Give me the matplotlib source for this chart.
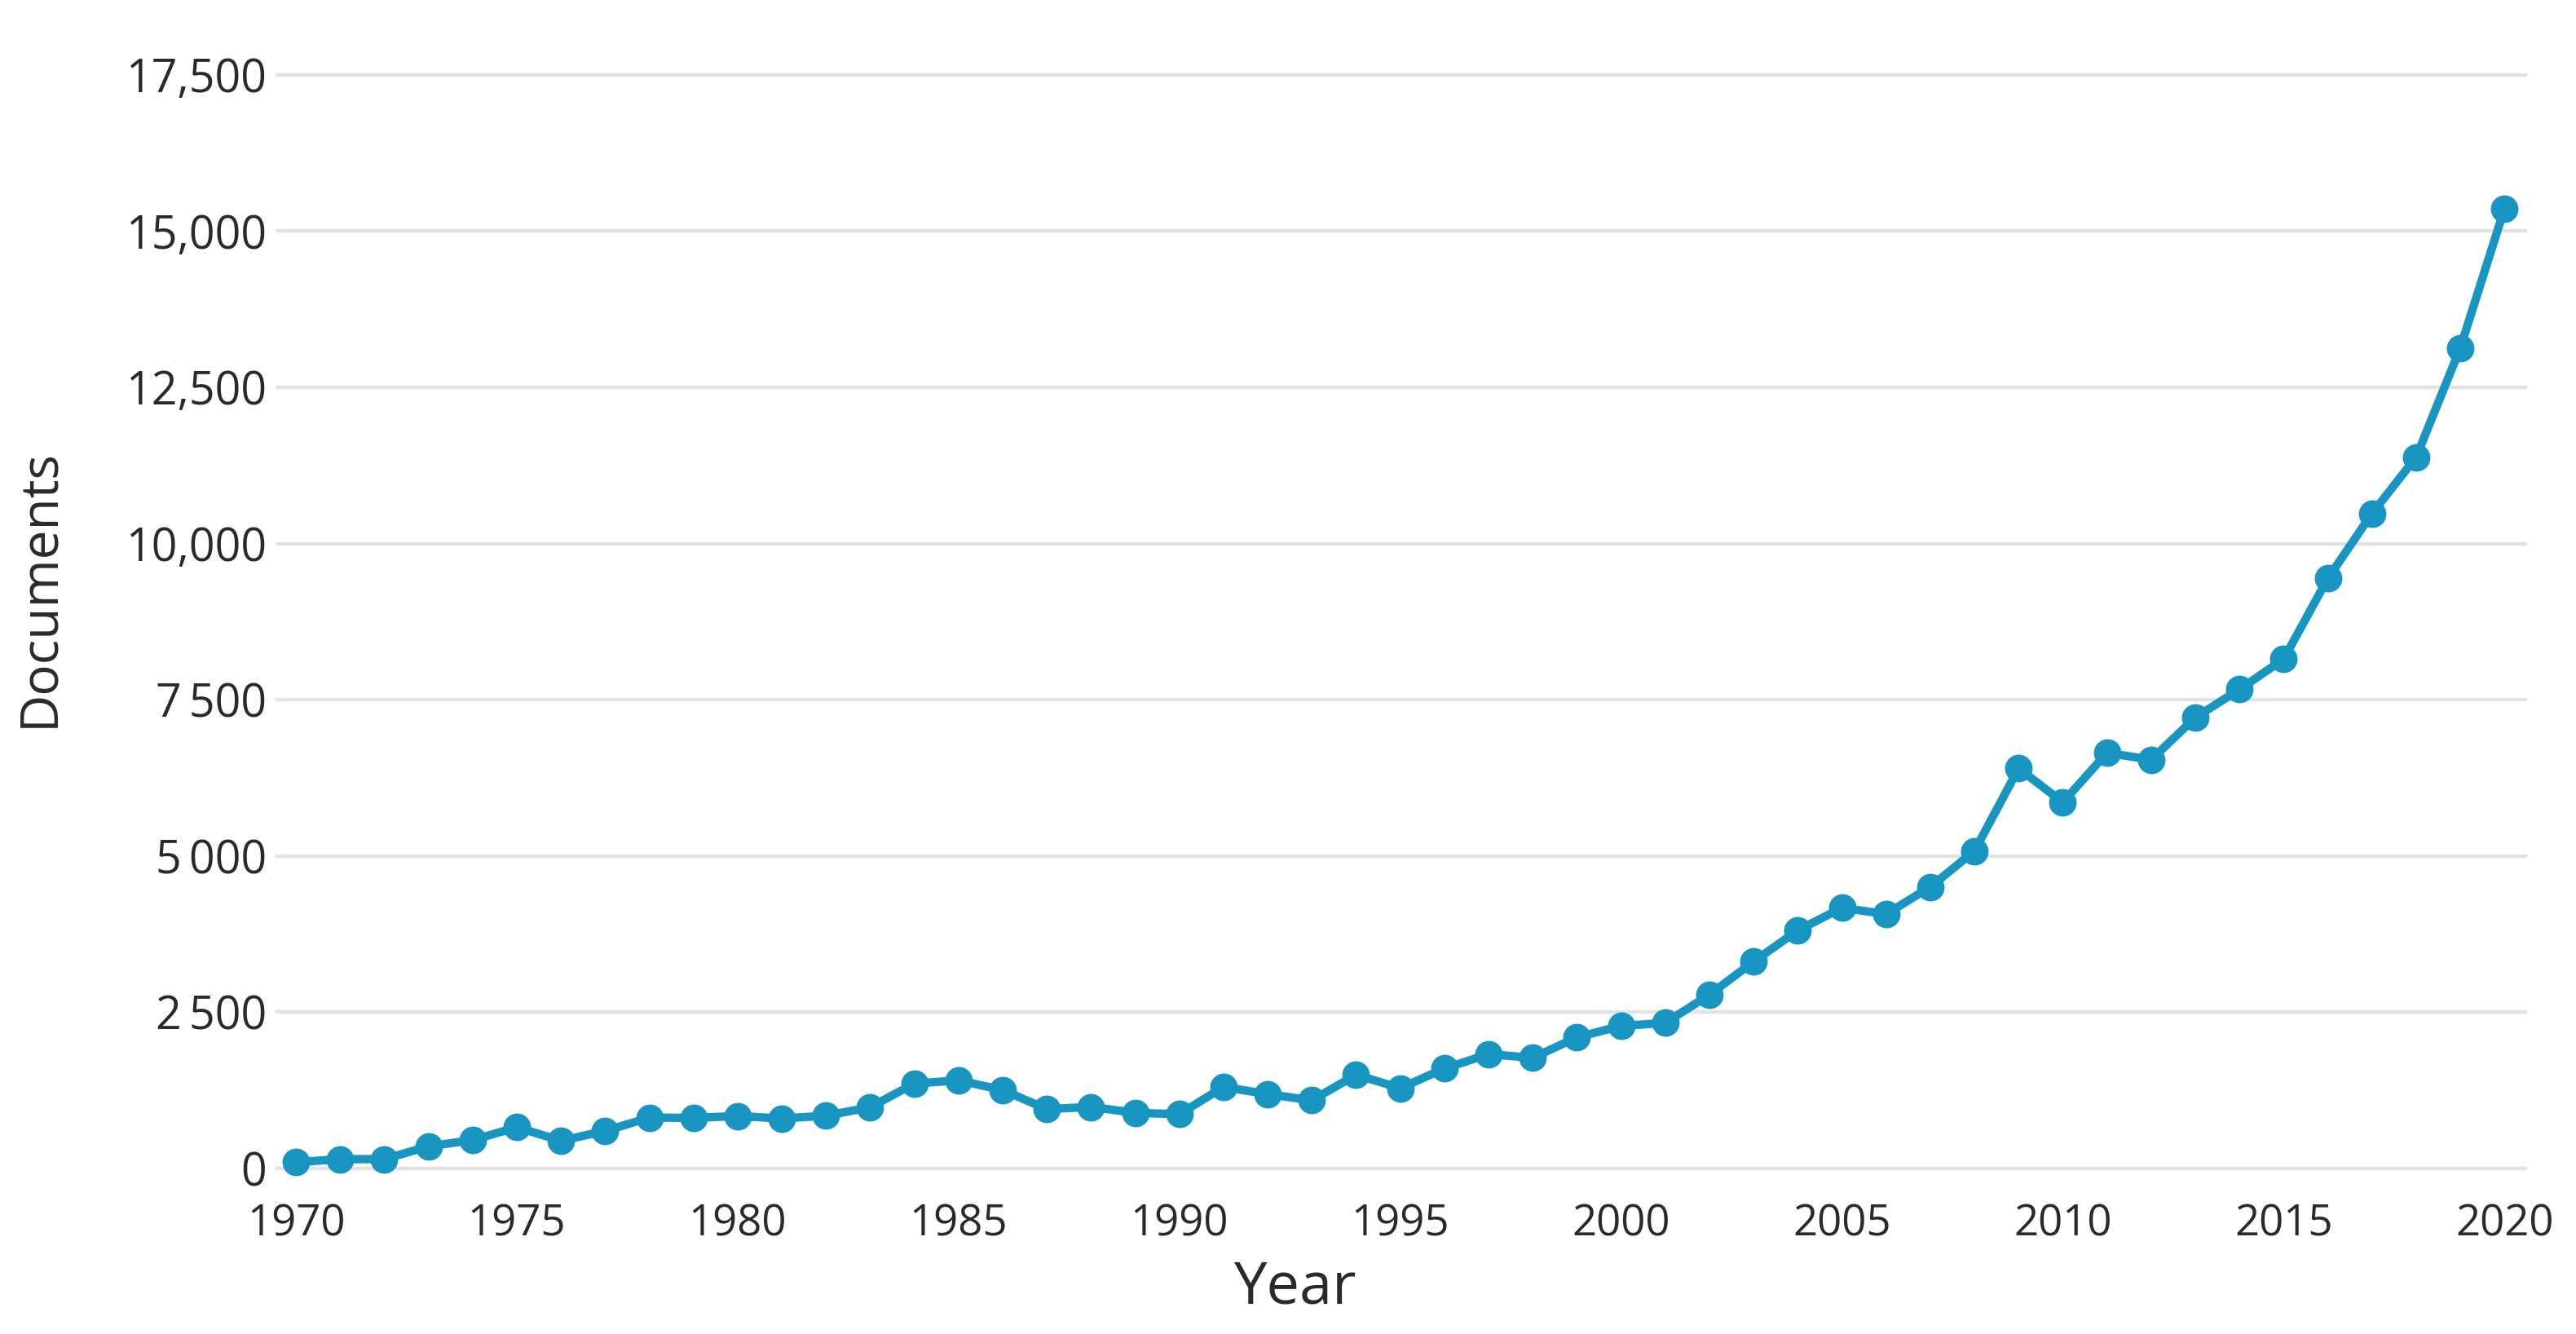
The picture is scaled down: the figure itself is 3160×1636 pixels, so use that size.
import matplotlib
matplotlib.use('Agg')
import matplotlib.pyplot as plt
from matplotlib.ticker import FixedLocator, FixedFormatter

# documents per year
years = list(range(1970, 2021))
documents = [
    100, 150, 150, 355, 455, 660, 445, 600, 815, 810,
    840, 800, 845, 980, 1360, 1410, 1255, 950, 985, 890,
    870, 1305, 1190, 1090, 1500, 1285, 1600, 1830, 1770, 2100,
    2280, 2330, 2780, 3310, 3810, 4170, 4070, 4505, 5080, 6400,
    5860, 6650, 6540, 7215, 7665, 8150, 9440, 10480, 11380, 13130,
    15360,
]

y_ticks = [0, 2500, 5000, 7500, 10000, 12500, 15000, 17500]
y_tick_labels = ['0', '2\u2009500', '5\u2009000', '7\u2009500',
                 '10,000', '12,500', '15,000', '17,500']
x_ticks = list(range(1970, 2021, 5))
x_tick_labels = [str(y) for y in x_ticks]

LINE = '#1995c1'
GRID = '#e2e2e2'
TEXT = '#2a2a2a'

plt.rcParams['font.family'] = ['Open Sans', 'DejaVu Sans']

fig = plt.figure(figsize=(15.8, 8.18), dpi=200, facecolor='white')
ax = fig.add_axes([0.107, 0.110, 0.874, 0.8387])

ax.plot(years, documents, color=LINE, lw=3.7, marker='o', ms=12.2,
        markeredgewidth=0, zorder=3)

ax.set_xlim(1969.54, 2020.51)
ax.set_ylim(-300, 17600)

ax.yaxis.set_major_locator(FixedLocator(y_ticks))
ax.yaxis.set_major_formatter(FixedFormatter(y_tick_labels))
ax.xaxis.set_major_locator(FixedLocator(x_ticks))
ax.xaxis.set_major_formatter(FixedFormatter(x_tick_labels))

ax.yaxis.grid(True, color=GRID, lw=1.6, zorder=0)
ax.xaxis.grid(False)
for s in ax.spines.values():
    s.set_visible(False)

ax.tick_params(axis='y', length=0, pad=4, labelsize=20, colors=TEXT)
ax.tick_params(axis='x', length=0, pad=7, labelsize=19, colors=TEXT)

ax.set_xlabel('Year', fontsize=26, color=TEXT)
ax.set_ylabel('Documents', fontsize=23, color=TEXT)
ax.xaxis.set_label_coords(0.453, -0.064)
ax.yaxis.set_label_coords(-0.0934, 0.536)

fig.savefig('out.png', dpi=200, facecolor='white')
